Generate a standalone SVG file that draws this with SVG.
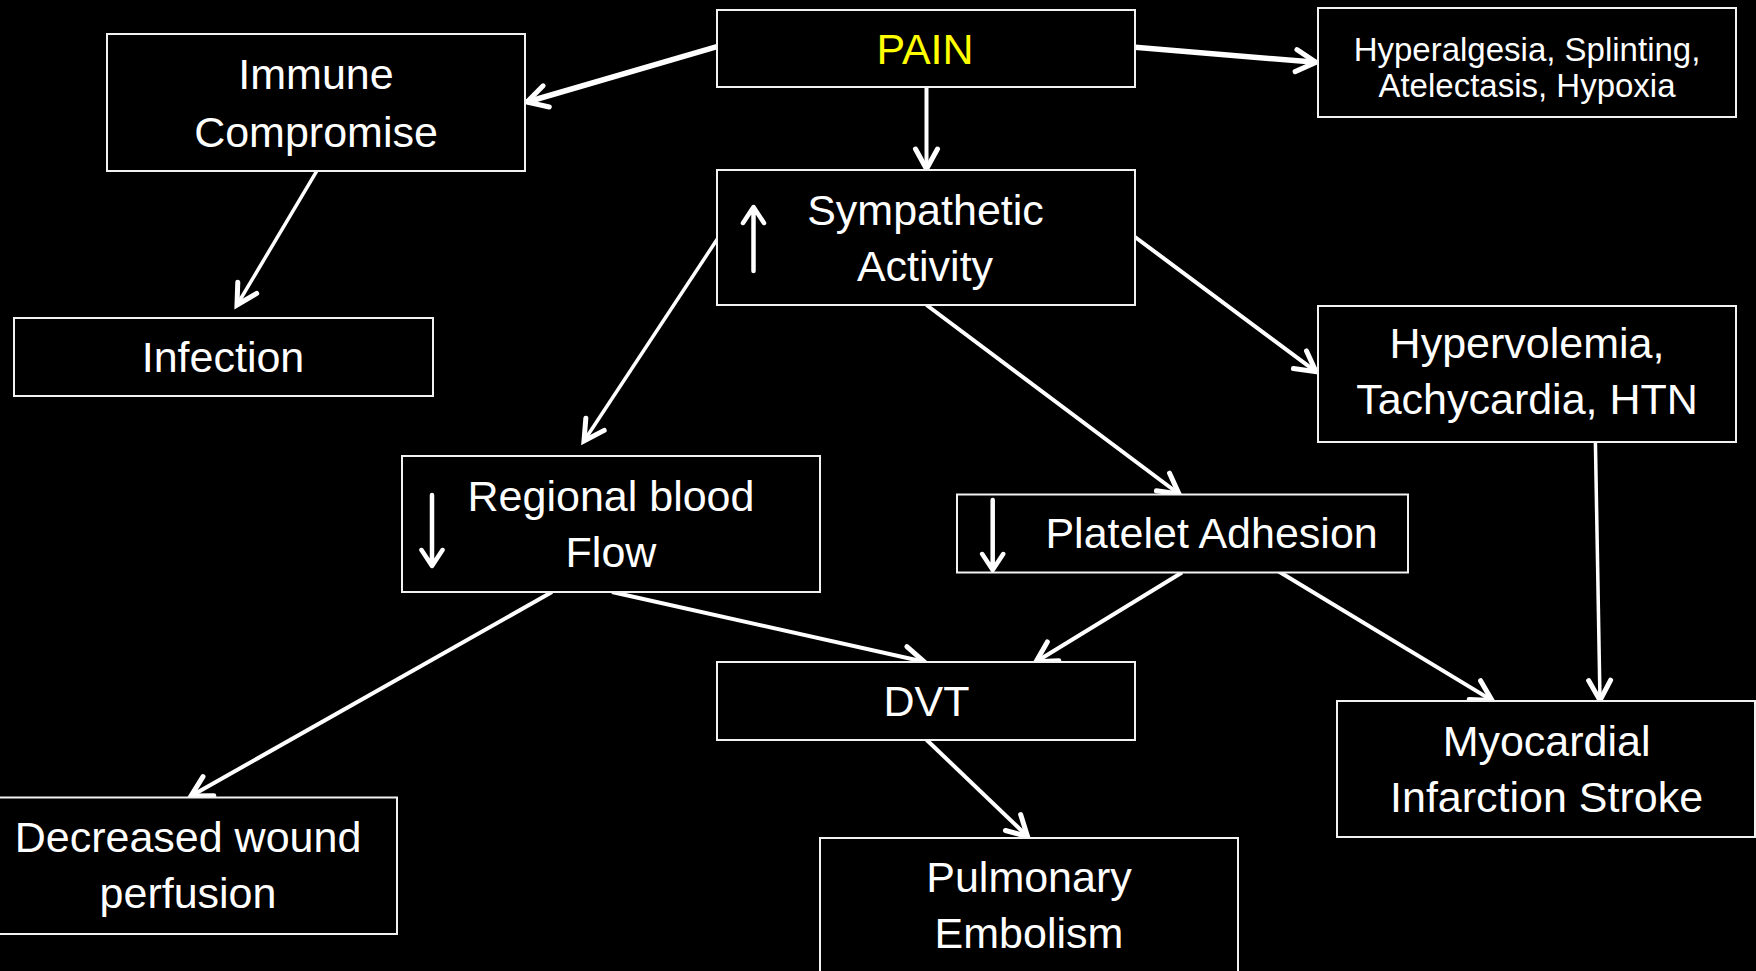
<svg xmlns="http://www.w3.org/2000/svg" width="1756" height="971" viewBox="0 0 1756 971">
<style>
.box{fill:#000;stroke:#f2f2f2;stroke-width:2}
.t{font-family:"Liberation Sans",Arial,sans-serif;font-size:43px;fill:#fff;text-anchor:middle}
.s{font-size:33px}
.c{stroke:#fff;stroke-width:4;fill:none;marker-end:url(#ah)}
.ia{stroke:#fff;stroke-width:4.5;fill:none;stroke-linecap:round;stroke-linejoin:round}
</style>
<defs>
<marker id="ah" markerUnits="userSpaceOnUse" markerWidth="40" markerHeight="40" refX="0" refY="0" viewBox="-30 -20 40 40" orient="auto">
<path d="M-20,-11 L0,0 L-20,11" fill="none" stroke="#fff" stroke-width="5" stroke-linecap="round" stroke-linejoin="miter"/>
</marker>
</defs>
<rect width="1756" height="971" fill="#000"/>
<g id="connectors">
<line class="c" x1="717" y1="46.7" x2="527" y2="102" style="stroke-width:5.5"/>
<line class="c" x1="1135" y1="47.3" x2="1316" y2="62.3" style="stroke-width:5.5"/>
<line class="c" x1="926.5" y1="87" x2="926.5" y2="169"/>
<line class="c" x1="317" y1="170.7" x2="237" y2="305" style="stroke-width:3.5"/>
<line class="c" x1="718" y1="238" x2="584" y2="441" style="stroke-width:3.5"/>
<line class="c" x1="1135" y1="237" x2="1316" y2="371.7"/>
<line class="c" x1="926.5" y1="305" x2="1179" y2="494"/>
<line class="c" x1="552" y1="592" x2="191" y2="796"/>
<line class="c" x1="612" y1="592" x2="924" y2="661.7"/>
<line class="c" x1="1182" y1="572.5" x2="1036" y2="661.7"/>
<line class="c" x1="1273" y1="568" x2="1492" y2="700.4"/>
<line class="c" x1="1595.4" y1="441.8" x2="1600" y2="700.4" style="stroke-width:3.5"/>
<line class="c" x1="926.5" y1="739.7" x2="1027.5" y2="836.4"/>
</g>
<g id="pain">
<rect class="box" x="717" y="10" width="418" height="77"/>
<text class="t" x="925" y="63.5" style="fill:#ffff00">PAIN</text>
</g>
<g id="hyperalgesia">
<rect class="box" x="1318" y="8" width="418" height="109"/>
<text class="t s" x="1527" y="60.7">Hyperalgesia, Splinting,</text>
<text class="t s" x="1527" y="97.3">Atelectasis, Hypoxia</text>
</g>
<g id="immune">
<rect class="box" x="107" y="34" width="418" height="137"/>
<text class="t" x="316" y="89">Immune</text>
<text class="t" x="316" y="147">Compromise</text>
</g>
<g id="sympathetic">
<rect class="box" x="717" y="170" width="418" height="135"/>
<path class="ia" d="M753.5,271 L753.5,208 M743,223 L753.5,207 L764,223"/>
<text class="t" x="925.5" y="225">Sympathetic</text>
<text class="t" x="925" y="280.5">Activity</text>
</g>
<g id="infection">
<rect class="box" x="14" y="318" width="419" height="78"/>
<text class="t" x="223" y="372">Infection</text>
</g>
<g id="hypervolemia">
<rect class="box" x="1318" y="306" width="418" height="136"/>
<text class="t" x="1527" y="358">Hypervolemia,</text>
<text class="t" x="1527" y="414">Tachycardia, HTN</text>
</g>
<g id="regional">
<rect class="box" x="402" y="456" width="418" height="136"/>
<path class="ia" d="M432,495 L432,565 M421.5,550 L432,566 L442.5,550"/>
<text class="t" x="611" y="510.7">Regional blood</text>
<text class="t" x="611" y="567">Flow</text>
</g>
<g id="platelet">
<rect class="box" x="957" y="494.5" width="451" height="78"/>
<path class="ia" d="M992.7,500 L992.7,569 M982.2,554 L992.7,570 L1003.2,554"/>
<text class="t" x="1211.6" y="548.2">Platelet Adhesion</text>
</g>
<g id="dvt">
<rect class="box" x="717" y="662" width="418" height="78"/>
<text class="t" x="926.5" y="716.2">DVT</text>
</g>
<g id="myocardial">
<rect class="box" x="1337" y="701" width="418" height="136"/>
<text class="t" x="1546.6" y="755.6">Myocardial</text>
<text class="t" x="1546.6" y="811.8">Infarction Stroke</text>
</g>
<g id="decreased">
<rect class="box" x="-1" y="797.5" width="398" height="136.5"/>
<text class="t" x="188" y="851.5">Decreased wound</text>
<text class="t" x="188" y="908.4">perfusion</text>
</g>
<g id="pulmonary">
<rect class="box" x="820" y="838" width="418" height="140"/>
<text class="t" x="1029" y="891.5">Pulmonary</text>
<text class="t" x="1029" y="948">Embolism</text>
</g>
</svg>
